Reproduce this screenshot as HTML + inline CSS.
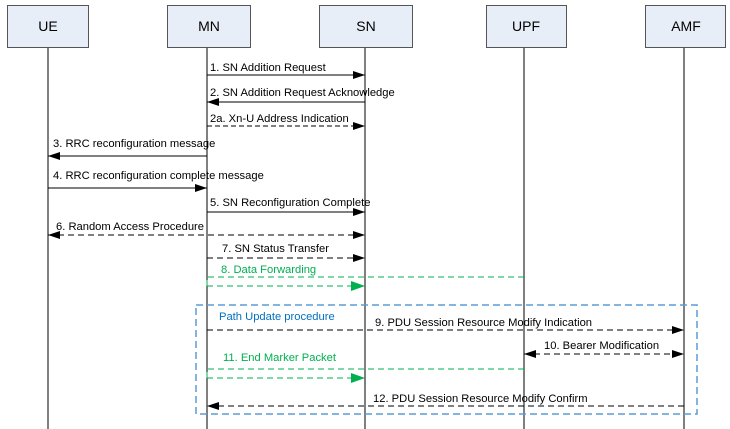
<!DOCTYPE html>
<html><head><style>
html,body{margin:0;padding:0;background:#fff;}
svg{display:block;}
text{font-family:"Liberation Sans",Arial,sans-serif;font-size:11.2px;fill:#000;}
</style></head><body>
<svg width="730" height="429" viewBox="0 0 730 429">
<defs>
<marker id="a" markerWidth="12" markerHeight="8" refX="12" refY="4" orient="auto" markerUnits="userSpaceOnUse"><path d="M0,0 L12,4 L0,8 z" fill="#000"/></marker>
<marker id="b" markerWidth="12" markerHeight="8" refX="0" refY="4" orient="auto" markerUnits="userSpaceOnUse"><path d="M12,0 L0,4 L12,8 z" fill="#000"/></marker>
<marker id="g" markerWidth="14" markerHeight="10" refX="14" refY="5" orient="auto" markerUnits="userSpaceOnUse"><path d="M0,0 L14,5 L0,10 z" fill="#00b050"/></marker>
</defs>
<g stroke="#000" stroke-width="1">
<line x1="48" y1="47" x2="48" y2="429"/>
<line x1="207" y1="47" x2="207" y2="429"/>
<line x1="365" y1="47" x2="365" y2="429"/>
<line x1="524" y1="47" x2="524" y2="429"/>
<line x1="684" y1="47" x2="684" y2="429"/>
</g>
<g fill="#e8eef8" stroke="#555" stroke-width="1">
<rect x="7.5" y="5.5" width="81" height="42"/>
<rect x="167.5" y="5.5" width="83" height="42"/>
<rect x="319.5" y="5.5" width="93" height="42"/>
<rect x="486.5" y="5.5" width="80" height="42"/>
<rect x="645.5" y="5.5" width="80" height="42"/>
</g>
<text x="48" y="31" text-anchor="middle" style="font-size:14px">UE</text>
<text x="209" y="31" text-anchor="middle" style="font-size:14px">MN</text>
<text x="366" y="31" text-anchor="middle" style="font-size:14px">SN</text>
<text x="526" y="31" text-anchor="middle" style="font-size:14px">UPF</text>
<text x="686" y="31" text-anchor="middle" style="font-size:14px">AMF</text>
<g stroke="#000" stroke-width="1" fill="none">
<line x1="207" y1="75" x2="365" y2="75" marker-end="url(#a)"/>
<line x1="365" y1="102" x2="207" y2="102" marker-end="url(#a)"/>
<line x1="207" y1="126" x2="365" y2="126" stroke-dasharray="5,3" marker-end="url(#a)"/>
<line x1="207" y1="156" x2="48" y2="156" marker-end="url(#a)"/>
<line x1="48" y1="188" x2="207" y2="188" marker-end="url(#a)"/>
<line x1="207" y1="212" x2="365" y2="212" marker-end="url(#a)"/>
<line x1="48" y1="235" x2="365" y2="235" stroke-dasharray="6,4" marker-start="url(#b)" marker-end="url(#a)"/>
<line x1="207" y1="258" x2="365" y2="258" stroke-dasharray="6,4" marker-end="url(#a)"/>
<line x1="207" y1="330" x2="684" y2="330" stroke-dasharray="6,4" marker-end="url(#a)"/>
<line x1="524" y1="354" x2="684" y2="354" stroke-dasharray="6,4" marker-start="url(#b)" marker-end="url(#a)"/>
<line x1="684" y1="406" x2="207" y2="406" stroke-dasharray="6,4" marker-end="url(#a)"/>
</g>
<g stroke="#00b050" stroke-width="1" fill="none" stroke-dasharray="6,4">
<polyline points="524,277 207,277 207,287"/>
<line x1="207" y1="286" x2="365" y2="286" marker-end="url(#g)"/>
<polyline points="524,369 207,369 207,378"/>
<line x1="207" y1="378" x2="365" y2="378" marker-end="url(#g)"/>
</g>
<rect x="196" y="305" width="501" height="109" fill="none" stroke="#5b9bd5" stroke-width="1.5" stroke-dasharray="7,4"/>
<text x="210" y="71">1. SN Addition Request</text>
<text x="210" y="96">2. SN Addition Request Acknowledge</text>
<text x="210" y="122">2a. Xn-U Address Indication</text>
<text x="53" y="147">3. RRC reconfiguration message</text>
<text x="53" y="179">4. RRC reconfiguration complete message</text>
<text x="210" y="206">5. SN Reconfiguration Complete</text>
<text x="56" y="230">6. Random Access Procedure</text>
<text x="222" y="252">7. SN Status Transfer</text>
<text x="221" y="273" style="fill:#00b050">8. Data Forwarding</text>
<text x="219" y="320" style="fill:#0070c0">Path Update procedure</text>
<text x="375" y="326">9. PDU Session Resource Modify Indication</text>
<text x="544" y="349">10. Bearer Modification</text>
<text x="223" y="361" style="fill:#00b050">11. End Marker Packet</text>
<text x="373" y="402">12. PDU Session Resource Modify Confirm</text>
</svg>
</body></html>
